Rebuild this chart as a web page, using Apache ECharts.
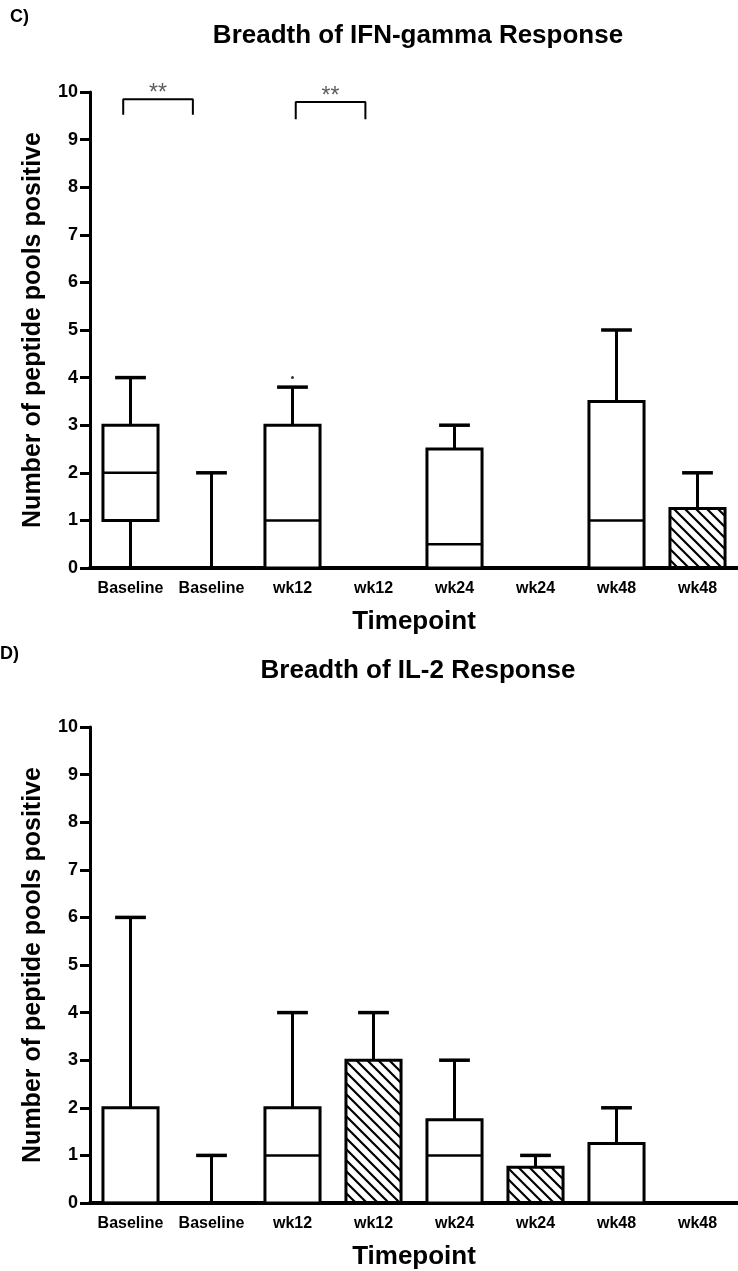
<!DOCTYPE html>
<html lang="en">
<head>
<meta charset="UTF-8">
<title>Breadth of response</title>
<style>
  html, body { margin: 0; padding: 0; background: #fff; }
  #main { width: 738px; height: 1271px; }
</style>
</head>
<body>
<div id="main"></div>
<script src="https://cdn.jsdelivr.net/npm/echarts@6/dist/echarts.min.js"></script>
<script>
// categories (x axis)
var timepoints = ['Baseline', 'Baseline', 'wk12', 'wk12', 'wk24', 'wk24', 'wk48', 'wk48'];
var yTicks = [0, 10, 1]; // min, max, step

// C) IFN-gamma : min / q1 / median / q3 / max
var ifnMin = [0, 0, 0, 0, 0, 0, 0, 0];
var ifnQ1  = [1, 0, 0, 0, 0, 0, 0, 0];
var ifnMed = [2, 0, 1, 0, 0.5, 0, 1, 0];
var ifnQ3  = [3, 0, 3, 0, 2.5, 0, 3.5, 1.25];
var ifnMax = [4, 2, 3.8, 0, 3, 0, 5, 2];
var ifnOutliers = [[2, 4]];

// D) IL-2
var il2Min = [0, 0, 0, 0, 0, 0, 0, 0];
var il2Q1  = [0, 0, 0, 0, 0, 0, 0, 0];
var il2Med = [0, 0, 1, 0, 1, 0, 0, 0];
var il2Q3  = [2, 0, 2, 3, 1.75, 0.75, 1.25, 0];
var il2Max = [6, 1, 4, 4, 3, 1, 2, 0];

// significance brackets on panel C (x in category units, y in data units)
var sigFrom = [-0.09, 2.04];
var sigTo   = [0.77, 2.9];
var sigLeg  = [9.52, 9.43];
var sigTop  = [9.85, 9.79];
var sigText = ['**', '**'];

// which boxes are hatched (style only)
var hatchC = [7];
var hatchD = [3, 5];

var FONT = 'Liberation Sans, Arial, sans-serif';

function makeHatch() {
    var c = document.createElement('canvas');
    c.width = 11; c.height = 11;
    var g = c.getContext('2d');
    g.strokeStyle = '#000';
    g.lineWidth = 2.2;
    g.beginPath();
    g.moveTo(-1, -1); g.lineTo(12, 12);
    g.moveTo(-6, 5); g.lineTo(6, 17);
    g.moveTo(5, -6); g.lineTo(17, 6);
    g.stroke();
    return c;
}
var hatch = makeHatch();

function boxData(mn, q1, md, q3, mx) {
    var out = [];
    for (var i = 0; i < mn.length; i++) {
        out.push([i, mn[i], q1[i], md[i], q3[i], mx[i]]);
    }
    return out;
}

function boxRenderer(hatched) {
    return function (params, api) {
        var i = api.value(0);
        var band = api.size([1, 0])[0];
        var bw = band * 0.68, cw = band * 0.38;
        var pMin = api.coord([i, api.value(1)]);
        var pQ1 = api.coord([i, api.value(2)]);
        var pMed = api.coord([i, api.value(3)]);
        var pQ3 = api.coord([i, api.value(4)]);
        var pMax = api.coord([i, api.value(5)]);
        var x = pMin[0];
        var st = { stroke: '#000', lineWidth: 3 };
        var kids = [
            { type: 'line', shape: { x1: x, y1: pQ3[1], x2: x, y2: pMax[1] }, style: st },
            { type: 'line', shape: { x1: x - cw / 2, y1: pMax[1], x2: x + cw / 2, y2: pMax[1] }, style: { stroke: '#000', lineWidth: 3.5 } },
            { type: 'line', shape: { x1: x, y1: pQ1[1], x2: x, y2: pMin[1] }, style: st },
            { type: 'line', shape: { x1: x - cw / 2, y1: pMin[1], x2: x + cw / 2, y2: pMin[1] }, style: { stroke: '#000', lineWidth: 3.5 } }
        ];
        if (pQ1[1] - pQ3[1] > 0.5) {
            kids.push({
                type: 'rect',
                shape: { x: x - bw / 2, y: pQ3[1], width: bw, height: pQ1[1] - pQ3[1] },
                style: {
                    fill: hatched.indexOf(i) >= 0 ? { image: hatch, repeat: 'repeat' } : '#fff',
                    stroke: '#000', lineWidth: 3
                }
            });
            kids.push({ type: 'line', shape: { x1: x - bw / 2, y1: pMed[1], x2: x + bw / 2, y2: pMed[1] }, style: { stroke: '#000', lineWidth: 2.5 } });
        }
        return { type: 'group', children: kids };
    };
}

function catAxis(grid) {
    return {
        type: 'category', gridIndex: grid, data: timepoints, boundaryGap: true,
        axisLine: { lineStyle: { color: '#000', width: 4 } },
        axisTick: { alignWithLabel: true, length: 9, lineStyle: { color: '#000', width: 3 } },
        axisLabel: { color: '#000', fontFamily: FONT, fontWeight: 'bold', fontSize: 16, margin: 13, interval: 0 },
        name: 'Timepoint', nameLocation: 'middle', nameGap: 41,
        nameTextStyle: { color: '#000', fontFamily: FONT, fontWeight: 'bold', fontSize: 26 }
    };
}

function valAxis(grid) {
    return {
        type: 'value', gridIndex: grid, min: yTicks[0], max: yTicks[1], interval: yTicks[2],
        axisLine: { show: true, onZero: false, lineStyle: { color: '#000', width: 3 } },
        axisTick: { show: true, length: 10, lineStyle: { color: '#000', width: 3 } },
        axisLabel: { color: '#000', fontFamily: FONT, fontWeight: 'bold', fontSize: 18, margin: 12 },
        splitLine: { show: false },
        name: 'Number of peptide pools positive', nameLocation: 'middle', nameGap: 44,
        nameTextStyle: { color: '#000', fontFamily: FONT, fontWeight: 'bold', fontSize: 25 }
    };
}

var series = [
    {
        type: 'custom', xAxisIndex: 0, yAxisIndex: 0,
        renderItem: boxRenderer(hatchC),
        encode: { x: 0, y: [1, 2, 3, 4, 5] },
        data: boxData(ifnMin, ifnQ1, ifnMed, ifnQ3, ifnMax)
    },
    {
        type: 'scatter', xAxisIndex: 0, yAxisIndex: 0, symbolSize: 3,
        itemStyle: { color: '#000' }, data: ifnOutliers
    },
    {
        type: 'custom', xAxisIndex: 1, yAxisIndex: 1,
        renderItem: boxRenderer(hatchD),
        encode: { x: 0, y: [1, 2, 3, 4, 5] },
        data: boxData(il2Min, il2Q1, il2Med, il2Q3, il2Max)
    }
];

var starPts = [];
for (var k = 0; k < sigFrom.length; k++) {
    series.push({
        type: 'line', xAxisIndex: 2, yAxisIndex: 0, symbol: 'none',
        lineStyle: { color: '#000', width: 2 },
        data: [[sigFrom[k], sigLeg[k]], [sigFrom[k], sigTop[k]], [sigTo[k], sigTop[k]], [sigTo[k], sigLeg[k]]]
    });
    starPts.push({ value: [(sigFrom[k] + sigTo[k]) / 2, sigTop[k]], name: sigText[k] });
}
series.push({
    type: 'scatter', xAxisIndex: 2, yAxisIndex: 0, symbolSize: 0, data: starPts,
    label: {
        show: true, position: 'top', distance: -6, formatter: '{b}',
        color: '#333', fontFamily: FONT, fontSize: 23
    }
});

var myChart = echarts.init(document.getElementById('main'));
myChart.setOption({
    animation: false,
    grid: [
        { left: 90, top: 92, width: 654, height: 476 },
        { left: 90, top: 727, width: 654, height: 476 }
    ],
    xAxis: [
        catAxis(0),
        catAxis(1),
        { type: 'value', gridIndex: 0, min: -0.5, max: 7.5, show: false }
    ],
    yAxis: [valAxis(0), valAxis(1)],
    graphic: [
        { type: 'text', left: 10, top: 8, style: { text: 'C)', font: 'bold 18px ' + FONT, fill: '#000' } },
        { type: 'text', x: 418, y: 36, style: { text: 'Breadth of IFN-gamma Response', font: 'bold 26px ' + FONT, fill: '#000', align: 'center', verticalAlign: 'middle' } },
        { type: 'text', left: 0, top: 645, style: { text: 'D)', font: 'bold 18px ' + FONT, fill: '#000' } },
        { type: 'text', x: 418, y: 671, style: { text: 'Breadth of IL-2 Response', font: 'bold 26px ' + FONT, fill: '#000', align: 'center', verticalAlign: 'middle' } }
    ],
    series: series
});
</script>
</body>
</html>
